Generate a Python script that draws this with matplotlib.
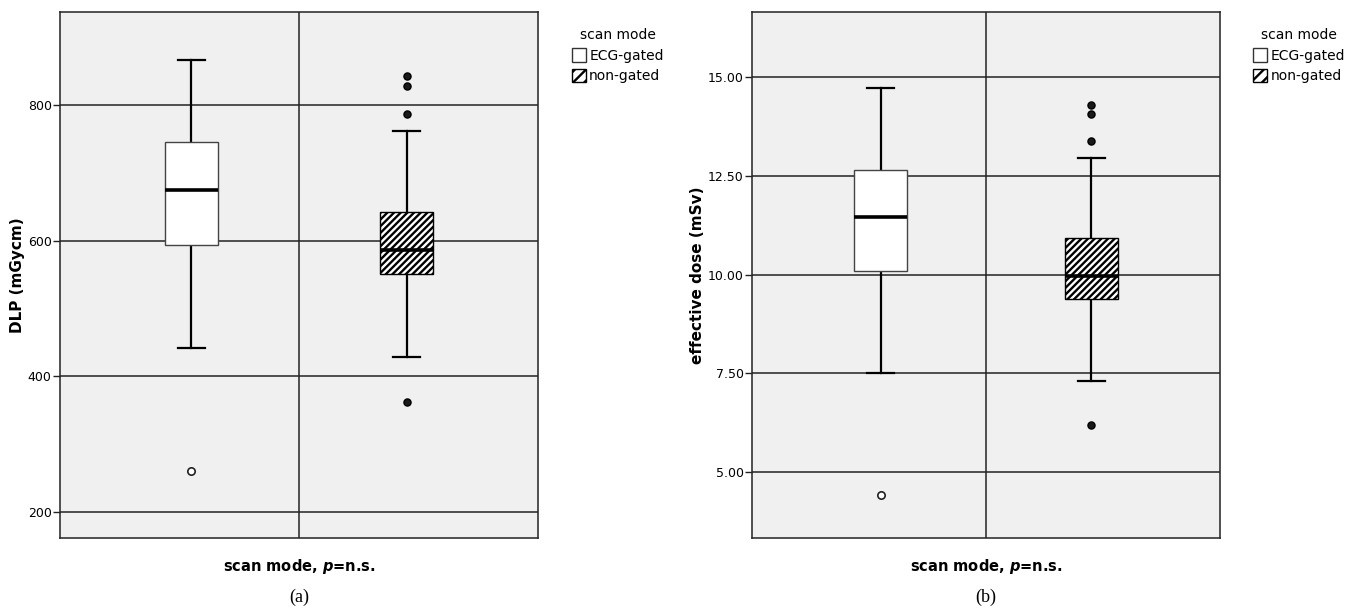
import matplotlib
matplotlib.use('Agg')
import matplotlib.pyplot as plt
from matplotlib.patches import Patch

plt.rcParams['font.family'] = ['DejaVu Sans']
plt.rcParams['mathtext.fontset'] = 'custom'
plt.rcParams['mathtext.it'] = 'DejaVu Sans:bold:italic'
plt.rcParams['hatch.linewidth'] = 1.7

groups = ['ECG-gated', 'non-gated']

# DLP (mGycm): whisker low, Q1, median, Q3, whisker high
dlp_ecg = [442, 593, 675, 745, 866]
dlp_non = [429, 551, 586, 642, 762]
dlp_out_ecg = [261]
dlp_out_non = [363, 787, 828, 842]

# effective dose (mSv)
ed_ecg = [7.5, 10.1, 11.45, 12.65, 14.72]
ed_non = [7.3, 9.37, 9.97, 10.92, 12.95]
ed_out_ecg = [4.43]
ed_out_non = [6.18, 13.38, 14.07, 14.3]

dlp_ticks = [200, 400, 600, 800]
dlp_ticklabels = ['200', '400', '600', '800']
ed_ticks = [5.0, 7.5, 10.0, 12.5, 15.0]
ed_ticklabels = ['5.00', '7.50', '10.00', '12.50', '15.00']

HATCH = '/////'


def make_stats(s, out):
    return {'whislo': s[0], 'q1': s[1], 'med': s[2], 'q3': s[3],
            'whishi': s[4], 'fliers': out}


def draw_panel(ax, s_ecg, s_non, o_ecg, o_non, ticks, ticklabels, ylim, ylabel):
    ax.set_facecolor('#f0f0f0')
    for t in ticks:
        ax.axhline(t, color='#222222', lw=1.1, zorder=1)
    ax.axvline(0.5, color='#222222', lw=1.1, zorder=1)
    pos = [0.275, 0.725]
    stats = [make_stats(s_ecg, []), make_stats(s_non, [])]
    bp = ax.bxp(stats, positions=pos, widths=0.112, patch_artist=True,
                showfliers=False, capwidths=0.058,
                whiskerprops=dict(color='black', lw=1.6),
                capprops=dict(color='black', lw=1.6),
                medianprops=dict(color='black', lw=2.6),
                boxprops=dict(lw=1.0))
    for b in bp['whiskers'] + bp['caps']:
        b.set_zorder(2)
    bp['boxes'][0].set_facecolor('white')
    bp['boxes'][0].set_edgecolor('#444444')
    bp['boxes'][1].set_facecolor('white')
    bp['boxes'][1].set_edgecolor('black')
    bp['boxes'][1].set_hatch(HATCH)
    for b in bp['boxes']:
        b.set_zorder(3)
    for m in bp['medians']:
        m.set_zorder(4)
    ax.scatter([pos[0]] * len(o_ecg), o_ecg, s=28, facecolor='white',
               edgecolor='#222222', lw=1.2, zorder=5)
    ax.scatter([pos[1]] * len(o_non), o_non, s=26, facecolor='#1a1a1a',
               edgecolor='black', lw=1.0, zorder=5)
    ax.set_xlim(0, 1)
    ax.set_ylim(*ylim)
    ax.set_xticks([])
    ax.set_yticks(ticks)
    ax.set_yticklabels(ticklabels, fontsize=9)
    ax.tick_params(axis='y', length=5, width=1, color='#222222', pad=1)
    for sp in ax.spines.values():
        sp.set_color('#222222')
        sp.set_linewidth(1.1)
    ax.set_ylabel(ylabel, fontsize=11, fontweight='bold', labelpad=2)
    ax.set_xlabel('scan mode, $p$=n.s.', fontsize=10.5, fontweight='bold',
                  labelpad=14)
    handles = [Patch(facecolor='white', edgecolor='#333333', label=groups[0]),
               Patch(facecolor='white', edgecolor='black', hatch='///',
                     label=groups[1])]
    ax.legend(handles=handles, title='scan mode', loc='upper left',
              bbox_to_anchor=(1.065, 0.975), frameon=False, fontsize=10,
              title_fontsize=10, handlelength=1.0, handleheight=1.1,
              handletextpad=0.25, labelspacing=0.45, borderpad=0.2,
              borderaxespad=0)


fig = plt.figure(figsize=(13.6, 6.11), dpi=100)
ax1 = fig.add_axes([60 / 1360, 73 / 611, 478 / 1360, 526 / 611])
ax2 = fig.add_axes([752 / 1360, 73 / 611, 468 / 1360, 526 / 611])

draw_panel(ax1, dlp_ecg, dlp_non, dlp_out_ecg, dlp_out_non,
           dlp_ticks, dlp_ticklabels, (162, 937), 'DLP (mGycm)')
draw_panel(ax2, ed_ecg, ed_non, ed_out_ecg, ed_out_non,
           ed_ticks, ed_ticklabels, (3.33, 16.65), 'effective dose (mSv)')

fig.text(299 / 1360, 1 - 597 / 611, '(a)', ha='center', va='center',
         fontsize=13, family='Liberation Serif')
fig.text(986 / 1360, 1 - 597 / 611, '(b)', ha='center', va='center',
         fontsize=13, family='Liberation Serif')

fig.savefig('out.png', dpi=100, facecolor='white')
